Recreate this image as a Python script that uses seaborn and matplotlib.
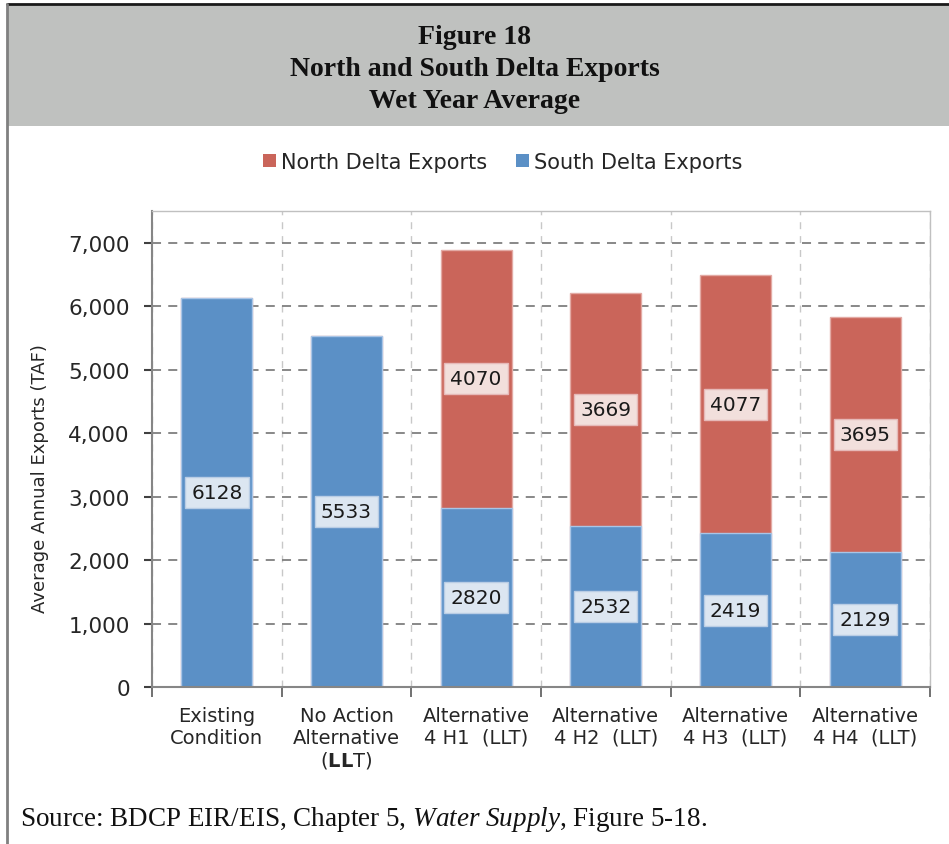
import matplotlib
matplotlib.use('Agg')
import matplotlib.pyplot as plt
import seaborn as sns
import pandas as pd
from matplotlib.patches import Rectangle, Patch
from matplotlib.lines import Line2D
from matplotlib.ticker import FuncFormatter

categories = ['Existing\nCondition', 'No Action\nAlternative\n($\\mathbf{LL}$T)',
              'Alternative\n4 H1  (LLT)', 'Alternative\n4 H2  (LLT)',
              'Alternative\n4 H3  (LLT)', 'Alternative\n4 H4  (LLT)']
south = [6128, 5533, 2820, 2532, 2419, 2129]
north = [0, 0, 4070, 3669, 4077, 3695]
series = ['North Delta Exports', 'South Delta Exports']
colors = ['#CA655A', '#5B90C6']

title_lines = ['Figure 18', 'North and South Delta Exports', 'Wet Year Average']

sns.set_theme(style='white')
plt.rcParams['font.family'] = ['DejaVu Sans']
plt.rcParams['mathtext.fontset'] = 'custom'
plt.rcParams['mathtext.rm'] = 'Liberation Serif'
plt.rcParams['mathtext.it'] = 'Liberation Serif:italic'
plt.rcParams['mathtext.bf'] = 'DejaVu Sans:bold'

df = pd.DataFrame({'cat': categories, 'south': south, 'north': north})
df['total'] = df['south'] + df['north']

W, H = 949, 845
fig = plt.figure(figsize=(W / 100, H / 100), dpi=100)

# header band and frame
fig.add_artist(Rectangle((7 / W, 1 - 127 / H), 1, 122 / H, transform=fig.transFigure,
                         facecolor='#BFC1BF', edgecolor='none', zorder=0))
fig.add_artist(Line2D([7 / W, 1], [1 - 5 / H] * 2, color='#1a1a1a', lw=2))
fig.add_artist(Line2D([7 / W] * 2, [0, 1 - 5 / H], color='#808080', lw=2))
for y, t in zip([38, 70, 101], title_lines):
    fig.text(0.5, 1 - y / H, t, ha='center', va='center', fontsize=20,
             fontweight='bold', family='Liberation Serif', color='#111111')

ax = fig.add_axes([152 / W, 1 - 688 / H, (930 - 152) / W, (688 - 212) / H])
sns.barplot(data=df, x='cat', y='total', color=colors[0], saturation=1, width=0.55,
            edgecolor='#e3aaa4', linewidth=1, ax=ax, zorder=2)
sns.barplot(data=df, x='cat', y='south', color=colors[1], saturation=1, width=0.55,
            edgecolor='#a9c5e6', linewidth=1, ax=ax, zorder=2)

for i, (s, n) in enumerate(zip(south, north)):
    ax.text(i, s / 2, str(s), ha='center', va='center', fontsize=14.5, color='#1a1a1a', zorder=4,
            bbox=dict(boxstyle='square,pad=0.3', fc='#DCE6F1', ec='#b9cde5', lw=1))
    if n > 0:
        ax.text(i, s + n / 2, str(n), ha='center', va='center', fontsize=14.5, color='#1a1a1a', zorder=4,
                bbox=dict(boxstyle='square,pad=0.3', fc='#F2DFDC', ec='#e6b9b8', lw=1))

ax.set_xlim(-0.5, 5.5)
ax.set_ylim(0, 7500)
ax.set_yticks(range(0, 8000, 1000))
ax.yaxis.set_major_formatter(FuncFormatter(lambda v, p: f'{v:,.0f}'))
ax.set_xticks([i - 0.5 for i in range(7)], minor=True)
ax.set_axisbelow(True)
ax.yaxis.grid(True, linestyle=(0, (5, 4)), color='#7f7f7f', lw=1.3)
ax.xaxis.grid(True, which='minor', linestyle=(0, (5, 5)), color='#c8c8c8', lw=1)
ax.xaxis.grid(False, which='major')

ax.tick_params(axis='x', which='major', length=0, pad=14, labelsize=14, labelcolor='#262626')
ax.tick_params(axis='x', which='minor', length=7, direction='out', color='#595959', width=1.2, bottom=True)
ax.tick_params(axis='y', length=6, direction='out', color='#404040', width=1.5, left=True,
               labelsize=15.5, labelcolor='#262626', pad=10)
for lab in ax.get_xticklabels():
    lab.set_linespacing(1.15)

for side in ['left', 'bottom']:
    ax.spines[side].set_color('#868686')
    ax.spines[side].set_linewidth(1.5)
for side in ['top', 'right']:
    ax.spines[side].set_color('#c0c0c0')
    ax.spines[side].set_linewidth(1)
ax.set_xlabel('')
ax.set_ylabel('')

fig.text(40 / W, 1 - 479 / H, 'Average Annual Exports (TAF)', rotation=90,
         ha='center', va='center', fontsize=13, color='#262626')

handles = [Patch(facecolor=c, edgecolor='none') for c in colors]
fig.legend(handles, series, loc='center', bbox_to_anchor=(503 / W, 1 - 163 / H), ncol=2,
           frameon=False, fontsize=15, handlelength=0.6, handleheight=0.6,
           handletextpad=0.25, columnspacing=1.4, labelcolor='#262626')

fig.text(20 / W, 1 - 820 / H,
         'Source: BDCP EIR/EIS, Chapter 5, $\\mathit{Water\\ Supply}$, Figure 5-18.',
         ha='left', va='center', fontsize=19.5, family='Liberation Serif', color='#111111')

fig.savefig('out.png', dpi=100)
